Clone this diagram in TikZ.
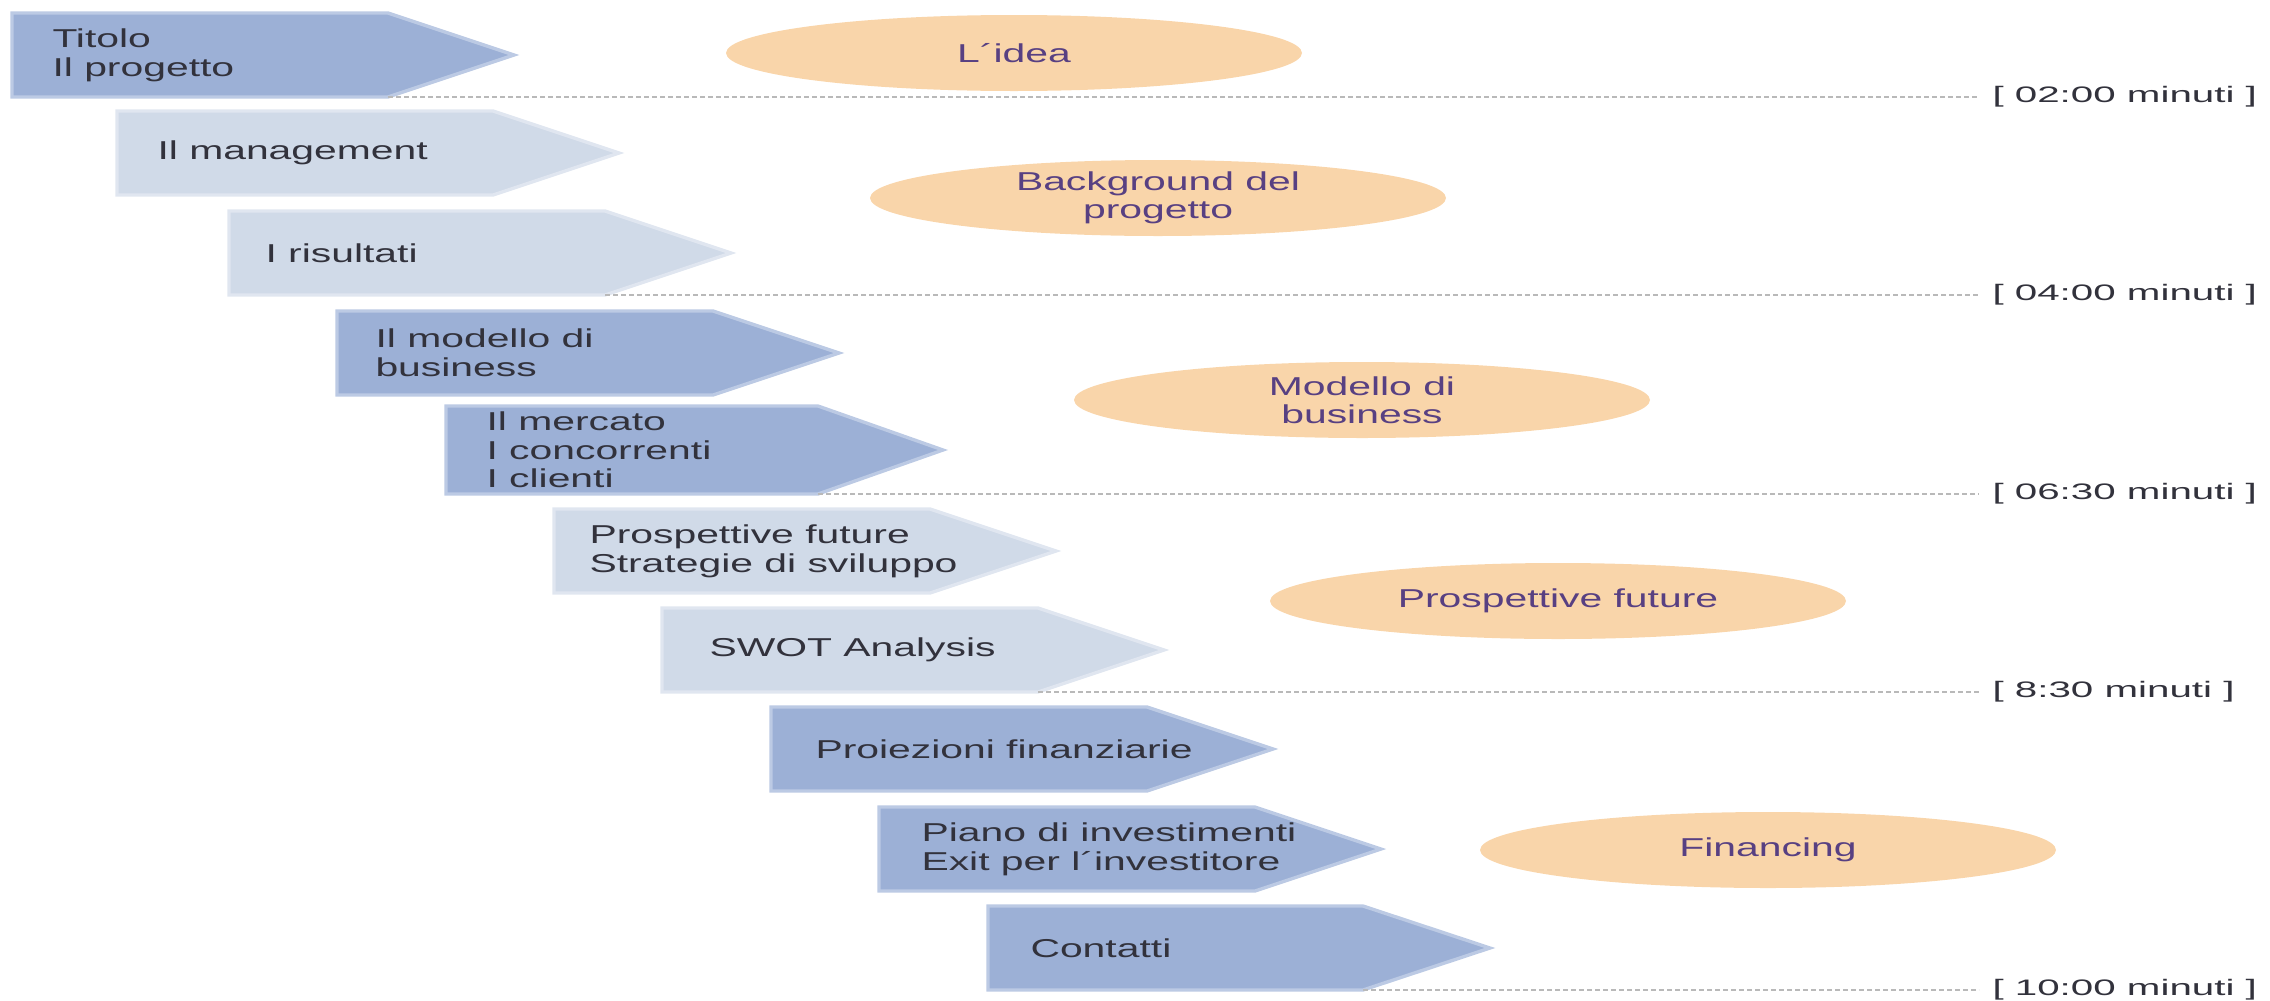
\documentclass[tikz,border=0pt]{standalone}
\usepackage{fontspec}
\setmainfont{Liberation Sans}[FakeStretch=1.58]
\newfontfamily\minfont{Liberation Sans}[FakeStretch=1.8]
\usetikzlibrary{shapes.geometric}

\definecolor{arrdark}{RGB}{156,176,214}
\definecolor{arrdarkrim}{RGB}{188,202,228}
\definecolor{arrlight}{RGB}{208,218,232}
\definecolor{arrlightrim}{RGB}{224,230,240}
\definecolor{ovalfill}{RGB}{249,213,170}
\definecolor{ovaltext}{RGB}{88,64,130}
\definecolor{steptext}{RGB}{50,50,60}

\tikzset{every picture/.style={line width=0.75pt}}
\tikzset{
  darkarrow/.style={fill=arrdark, draw=arrdarkrim, line width=2.5pt, line join=miter},
  lightarrow/.style={fill=arrlight, draw=arrlightrim, line width=2.5pt, line join=miter},
  steplabel/.style={anchor=west, align=left, inner sep=0pt, text=steptext, font=\fontsize{19.4}{21.5}\selectfont},
  oval/.style={ellipse, fill=ovalfill, minimum width=432pt, minimum height=57pt, inner sep=0pt, align=center, text=ovaltext, font=\fontsize{19.4}{21}\selectfont},
  timeline/.style={draw=gray!55, line width=1.5pt, dash pattern=on 4pt off 2pt, shorten >=9.75pt},
  timelabel/.style={anchor=west, inner sep=0pt, text=steptext, font=\minfont\fontsize{16.8}{20}\selectfont},
}

\begin{document}
\begin{tikzpicture}[x=0.75pt,y=0.75pt,yscale=-1,xscale=1]
	\useasboundingbox (0,0) rectangle (2270,1000);

	%Shape: Arrows
	\draw [darkarrow]  (12,13) -- (388,13) -- (514,55) -- (388,97) -- (12,97) -- cycle ;
	\draw [lightarrow] (117,111) -- (493,111) -- (619,153) -- (493,195) -- (117,195) -- cycle ;
	\draw [lightarrow] (229,211) -- (605,211) -- (731,253) -- (605,295) -- (229,295) -- cycle ;
	\draw [darkarrow]  (337,311) -- (713,311) -- (839,353) -- (713,395) -- (337,395) -- cycle ;
	\draw [darkarrow]  (446,406) -- (818,406) -- (943,450) -- (818,494) -- (446,494) -- cycle ;
	\draw [lightarrow] (554,509) -- (930,509) -- (1056,551) -- (930,593) -- (554,593) -- cycle ;
	\draw [lightarrow] (662,608) -- (1038,608) -- (1164,650) -- (1038,692) -- (662,692) -- cycle ;
	\draw [darkarrow]  (771,707) -- (1147,707) -- (1273,749) -- (1147,791) -- (771,791) -- cycle ;
	\draw [darkarrow]  (879,807) -- (1255,807) -- (1381,849) -- (1255,891) -- (879,891) -- cycle ;
	\draw [darkarrow]  (988,906) -- (1363,906) -- (1490,948) -- (1363,990) -- (988,990) -- cycle ;

	%Corners where the time lines start
	\coordinate (c1) at (388,97);
	\coordinate (c2) at (605,295);
	\coordinate (c3) at (818,494);
	\coordinate (c4) at (1038,692);
	\coordinate (c5) at (1363,990);

	% Text Node
	\node [steplabel] (t1) at (52,55) {Titolo\\Il progetto};
	% Text Node
	\node [steplabel] (t2) at (157,153) {Il management};
	% Text Node
	\node [steplabel] (t3) at (265,253) {I risultati};
	% Text Node
	\node [steplabel] (t4) at (375,353) {Il modello di\\business};
	% Text Node
	\node [steplabel] (t5) at (486,450) {Il mercato\\I concorrenti\\I clienti};
	% Text Node
	\node [steplabel] (t6) at (589,551) {Prospettive future\\Strategie di sviluppo};
	% Text Node
	\node [steplabel] (t7) at (709,650) {SWOT Analysis};
	% Text Node
	\node [steplabel] (t8) at (815,749) {Proiezioni finanziarie};
	% Text Node
	\node [steplabel] (t9) at (921,849) {Piano di investimenti\\Exit per l´investitore};
	% Text Node
	\node [steplabel] (t10) at (1030,948) {Contatti};

	%Shape: Ellipses
	\node [oval] (o1) at (1014,53) {L´idea};
	\node [oval] (o2) at (1158,198) {Background del\\progetto};
	\node [oval] (o3) at (1362,400) {Modello di\\business};
	\node [oval] (o4) at (1558,601) {Prospettive future};
	\node [oval] (o5) at (1768,850) {Financing};

	% Time labels
	\node [timelabel] (m1) at (1992,97) {[ 02:00 minuti ]};
	\node [timelabel] (m2) at (1992,295) {[ 04:00 minuti ]};
	\node [timelabel] (m3) at (1992,494) {[ 06:30 minuti ]};
	\node [timelabel] (m4) at (1992,692) {[ 8:30 minuti ]};
	\node [timelabel] (m5) at (1992,990) {[ 10:00 minuti ]};

	%Dotted time lines
	\draw [timeline] (c1) -- (m1.west) ;
	\draw [timeline] (c2) -- (m2.west) ;
	\draw [timeline] (c3) -- (m3.west) ;
	\draw [timeline] (c4) -- (m4.west) ;
	\draw [timeline] (c5) -- (m5.west) ;

\end{tikzpicture}
\end{document}
